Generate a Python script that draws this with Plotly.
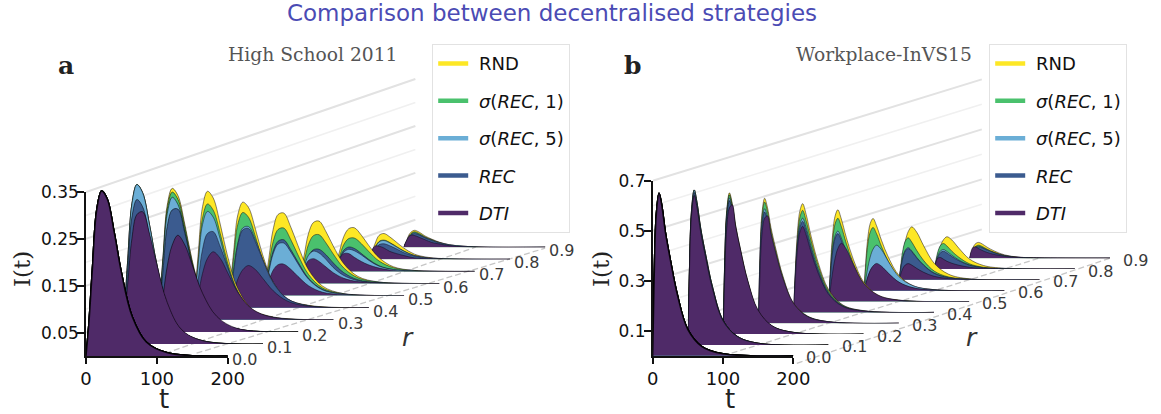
import plotly.graph_objects as go

W, H = 1161, 414
R_LABELS = ["0.0","0.1","0.2","0.3","0.4","0.5","0.6","0.7","0.8","0.9"]
SERIES = ["\u00a0RND", "\u00a0<i>σ</i>(<i>REC</i>, 1)", "\u00a0<i>σ</i>(<i>REC</i>, 5)", "\u00a0<i>REC</i>", "\u00a0<i>DTI</i>"]
COLORS = ["#FDE725", "#4AC16D", "#6BAED6", "#3B5B8F", "#4F2A68"]

# Values are I(t) in thousandths, one row per r = 0.0 ... 0.9
T_A = [0,4,9,15,22,30,40,50,65,85,115,200]
A_RND = [
[0,68,185,310,352,335,262,178,85,30,7,0],
[0,65,178,299,340,323,253,171,82,29,7,0],
[0,59,160,270,306,291,228,154,74,26,6,0],
[0,52,143,241,274,260,204,138,66,23,6,0],
[0,43,118,198,225,214,167,113,54,19,5,0],
[0,28,80,141,173,176,146,107,55,20,4,0],
[0,21,60,106,130,133,110,80,42,15,3,0],
[0,15,42,74,91,93,77,56,29,10,2,0],
[0,12,32,51,55,48,36,24,11,4,1,0],
[0,14,30,36,32,24,17,11,5,2,0,0]]
A_S1 = [
[0,68,185,310,352,335,262,178,85,30,7,0],
[0,65,178,299,340,323,253,171,82,29,7,0],
[0,57,156,262,298,283,222,150,72,25,6,0],
[0,47,129,217,247,234,184,124,60,21,5,0],
[0,39,106,178,203,193,151,102,49,17,4,0],
[0,23,65,115,141,144,119,87,45,16,4,0],
[0,17,47,83,102,104,86,63,33,12,3,0],
[0,12,32,57,70,71,59,43,22,8,2,0],
[0,9,24,38,41,36,27,18,8,3,1,0],
[0,13,27,33,29,22,16,10,5,2,0,0]]
A_S5 = [
[0,68,185,310,352,335,262,178,85,30,7,0],
[0,65,178,299,340,323,253,171,82,29,7,0],
[0,55,150,252,287,272,213,144,69,24,6,0],
[0,44,121,203,231,219,172,116,56,20,5,0],
[0,30,82,138,170,173,144,105,54,19,4,0],
[0,18,51,89,110,112,93,68,35,12,3,0],
[0,13,36,60,69,65,51,34,17,6,1,0],
[0,9,24,41,47,44,35,24,11,4,1,0],
[0,9,23,37,40,35,26,17,8,3,1,0],
[0,12,25,31,27,21,15,10,5,2,0,0]]
A_REC = [
[0,68,185,310,352,335,262,178,85,30,7,0],
[0,59,161,271,308,293,229,155,74,26,6,0],
[0,46,130,225,260,262,210,145,72,26,6,0],
[0,30,86,150,184,188,156,114,59,21,5,0],
[0,27,77,135,166,169,140,103,53,19,4,0],
[0,19,54,95,116,119,98,72,37,13,3,0],
[0,12,33,58,72,73,61,44,23,8,2,0],
[0,10,27,45,52,49,38,26,12,4,1,0],
[0,7,19,31,33,29,22,14,7,2,0,0],
[0,12,24,29,26,20,14,9,4,1,0,0]]
A_DTI = [
[0,68,185,310,352,335,262,178,85,30,7,0],
[0,46,128,225,276,282,234,171,88,31,7,0],
[0,27,76,140,185,206,185,144,82,33,7,0],
[0,19,54,99,131,145,131,102,58,23,5,0],
[0,12,33,61,81,90,81,63,36,14,3,0],
[0,11,31,54,66,67,56,41,21,7,2,0],
[0,12,31,49,53,47,35,23,11,4,1,0],
[0,11,27,38,38,30,21,14,7,2,0,0],
[0,16,28,28,24,17,12,8,3,1,0,0],
[0,14,25,25,21,16,10,7,3,1,0,0]]

T_B = [0,2,5,9,13,18,25,35,50,70,100,200]
B_RND = [
[0,300,560,650,600,495,385,245,105,37,8,0],
[0,285,533,620,570,471,366,233,99,35,7,0],
[0,261,488,565,523,432,335,213,91,32,7,0],
[0,232,433,500,464,383,297,189,81,29,6,0],
[0,130,296,405,435,392,305,200,91,30,7,0],
[0,110,250,341,367,330,257,169,77,26,6,0],
[0,87,197,269,289,260,202,133,61,20,4,0],
[0,38,98,157,193,212,191,136,66,23,4,0],
[0,23,59,95,117,129,116,83,40,14,3,0],
[0,19,43,59,63,57,44,29,13,4,1,0]]
B_S1 = [
[0,300,560,650,600,495,385,245,105,37,8,0],
[0,285,533,620,570,471,366,233,99,35,7,0],
[0,258,482,557,515,426,330,210,90,32,7,0],
[0,224,419,485,448,370,287,183,78,28,6,0],
[0,122,277,379,408,367,286,188,86,29,6,0],
[0,100,226,310,333,300,233,153,70,23,5,0],
[0,76,172,235,253,228,177,116,53,18,4,0],
[0,50,114,156,168,151,118,77,35,12,3,0],
[0,31,69,95,102,92,71,47,21,7,2,0],
[0,16,35,48,52,47,36,24,11,4,1,0]]
B_S5 = [
[0,300,560,650,600,495,385,245,105,37,8,0],
[0,285,533,620,570,471,366,233,99,35,7,0],
[0,252,471,545,504,416,323,206,88,31,7,0],
[0,212,396,458,423,350,271,173,74,26,6,0],
[0,113,256,351,377,339,264,173,79,26,6,0],
[0,85,192,262,282,254,197,130,59,20,4,0],
[0,33,84,135,166,182,164,116,56,20,4,0],
[0,39,88,120,129,116,90,59,27,9,2,0],
[0,23,53,73,78,70,55,36,16,5,1,0],
[0,14,33,45,48,43,34,22,10,3,1,0]]
B_REC = [
[0,300,560,650,600,495,385,245,105,37,8,0],
[0,281,525,610,561,464,360,229,98,35,7,0],
[0,247,462,534,494,408,317,201,86,31,6,0],
[0,206,384,445,411,340,264,168,72,25,5,0],
[0,109,248,339,364,328,255,167,76,25,5,0],
[0,82,185,253,272,245,190,125,57,19,4,0],
[0,20,50,80,97,105,95,68,33,11,2,0],
[0,38,85,116,125,113,88,58,26,9,2,0],
[0,21,48,66,71,64,50,33,15,5,1,0],
[0,14,31,42,45,41,32,21,9,3,1,0]]
B_DTI = [
[0,300,560,650,600,495,385,245,105,37,8,0],
[0,275,514,598,550,454,353,224,96,34,7,0],
[0,200,420,505,517,430,335,215,95,33,7,0],
[0,165,350,420,430,360,280,180,80,27,6,0],
[0,103,234,320,344,310,241,158,72,24,5,0],
[0,42,107,172,212,233,210,149,72,26,5,0],
[0,20,50,81,99,109,98,70,34,12,2,0],
[0,20,44,60,65,59,46,30,14,5,1,0],
[0,25,44,46,39,31,23,15,7,2,0,0],
[0,25,43,45,38,31,23,15,7,2,0,0]]

Y_TICKS_A = [0.05, 0.15, 0.25, 0.35]
Y_TICKS_B = [0.1, 0.3, 0.5, 0.7]
GRID_A = [0.35, 0.30, 0.25, 0.20, 0.15, 0.10, 0.05]
GRID_B = [0.7, 0.6, 0.5, 0.4, 0.3, 0.2, 0.1]

PANELS = [
    dict(letter="a", name="High School 2011", T=T_A, data=[A_RND, A_S1, A_S5, A_REC, A_DTI],
         x0=86.0, xs=0.7085, y0=356.1, ys=469.0, dx=35.3, dy=12.1, ymax=0.42,
         ticks=Y_TICKS_A, tickfmt="%.2f", grid=GRID_A,
         grid_steps=9.33, legx=432, letter_x=66, name_r=400, ylab_x=22, tlab_x=164, rlab=(408, 337),
         lab_dx=2, lab_dy=-3.5, dash=[(100, 0.0, 100+450, 9*12.1/469), (156, 0.0064, 648, 0.23)]),
    dict(letter="b", name="Workplace-InVS15", T=T_B, data=[B_RND, B_S1, B_S5, B_REC, B_DTI],
         x0=652.7, xs=0.703, y0=355.8, ys=250.0, dx=35.2, dy=10.85, ymax=0.72,
         ticks=Y_TICKS_B, tickfmt="%.1f", grid=GRID_B,
         grid_steps=9.35, legx=989, letter_x=632, name_r=974, ylab_x=601, tlab_x=730, rlab=(972, 337),
         lab_dx=11, lab_dy=-2, dash=[(100, 0.0, 550, 9*10.85/250), (205, -0.03, 650, 0.39)]),
]

fig = go.Figure()
layout = {}
annots = []

def xdom(a, b):
    return [a / W, b / W]

def ydom(bottom, top):
    return [1 - bottom / H, 1 - top / H]

def paper_text(x, y, text, family, size, color, xanchor="center", angle=0):
    return dict(x=x / W, y=1 - y / H, xref="paper", yref="paper", text=text, showarrow=False,
                xanchor=xanchor, yanchor="middle", textangle=angle,
                font=dict(family=family, size=size, color=color))

n = 0
for p_idx, p in enumerate(PANELS):
    # background axes: grid rails and dashed floor lines
    n += 1
    bg = n
    b_left, b_right = p["x0"], p["x0"] + 500
    b_bot, b_top = p["y0"] + 30, p["y0"] - 320
    layout[f"xaxis{bg}"] = dict(domain=xdom(b_left, b_right), range=[0, 500 / p["xs"]], visible=False, anchor=f"y{bg}")
    layout[f"yaxis{bg}"] = dict(domain=ydom(b_bot, b_top), range=[-30 / p["ys"], 320 / p["ys"]], visible=False, anchor=f"x{bg}")
    sx = p["dx"] / p["xs"]
    sy = p["dy"] / p["ys"]
    for k, v in enumerate(p["grid"]):
        maj = k % 2 == 0
        fig.add_trace(go.Scatter(x=[0, p["grid_steps"] * sx], y=[v, v + p["grid_steps"] * sy],
                                 mode="lines", line=dict(color="#e2e2e2" if maj else "#f0f0f0", width=2 if maj else 1.6),
                                 xaxis=f"x{bg}", yaxis=f"y{bg}", showlegend=False, hoverinfo="skip"))
    for d in p["dash"]:
        fig.add_trace(go.Scatter(x=[d[0], d[2]], y=[d[1], d[3]], mode="lines",
                                 line=dict(color="#c6c6c6", width=1.3, dash="6px,3px"),
                                 xaxis=f"x{bg}", yaxis=f"y{bg}", showlegend=False, hoverinfo="skip"))
    # one pair of axes per ridge, back to front
    for i in range(9, -1, -1):
        n += 1
        left = p["x0"] + i * p["dx"]
        base = p["y0"] - i * p["dy"]
        layout[f"xaxis{n}"] = dict(domain=xdom(left, left + 200 * p["xs"]), range=[0, 200], visible=False, anchor=f"y{n}")
        layout[f"yaxis{n}"] = dict(domain=ydom(base, base - p["ymax"] * p["ys"]), range=[0, p["ymax"]], visible=False, anchor=f"x{n}")
        rows = [s[i] for s in p["data"]]
        order = sorted(range(4), key=lambda j: -max(rows[j])) + [4]
        edge = "rgba(0,0,0,0.85)" if i == 0 else ("rgba(0,0,0,0.6)" if i < 3 else "rgba(15,8,25,0.62)")
        width = 1.5 if i == 0 else (0.9 if i < 3 else 0.8)
        for j in order:
            fig.add_trace(go.Scatter(x=p["T"], y=[v / 1000 for v in rows[j]], mode="lines",
                                     line=dict(shape="spline", smoothing=1.0, color=edge, width=width),
                                     fill="tozeroy", fillcolor=COLORS[j], cliponaxis=False,
                                     xaxis=f"x{n}", yaxis=f"y{n}", showlegend=False, hoverinfo="skip"))
        annots.append(dict(x=200, y=0, xref=f"x{n}", yref=f"y{n}", text=R_LABELS[i], showarrow=False,
                           xanchor="left", yanchor="middle", xshift=p["lab_dx"], yshift=p["lab_dy"],
                           font=dict(family="DejaVu Sans", size=16, color="#3a3a3a")))
    # visible axes
    n += 1
    top_v = p["ticks"][-1]
    layout[f"xaxis{n}"] = dict(domain=xdom(p["x0"], p["x0"] + 200 * p["xs"]), range=[0, 200], anchor=f"y{n}",
                               tickvals=[0, 100, 200], ticks="outside", ticklen=6, tickwidth=1.5, tickcolor="#111",
                               showline=True, linecolor="#111", linewidth=1.5, showgrid=False, zeroline=False,
                               tickfont=dict(family="DejaVu Sans", size=18, color="#111"))
    layout[f"yaxis{n}"] = dict(domain=ydom(p["y0"], p["y0"] - top_v * p["ys"]), range=[0, top_v], anchor=f"x{n}",
                               tickvals=p["ticks"], ticktext=[p["tickfmt"] % v for v in p["ticks"]],
                               ticks="outside", ticklen=7, tickwidth=1.5, tickcolor="#111", ticklabelstandoff=-5,
                               showline=True, linecolor="#111", linewidth=1.5, showgrid=False, zeroline=False,
                               tickfont=dict(family="DejaVu Sans", size=17, color="#111"))
    leg = "legend" if p_idx == 0 else "legend2"
    layout[leg] = dict(x=p["legx"] / W, y=1 - 44 / H, xanchor="left", yanchor="top", bgcolor="rgba(255,255,255,0.85)",
                       bordercolor="#e2e2e2", borderwidth=1.2, font=dict(family="DejaVu Sans", size=18, color="#111"),
                       tracegroupgap=11, itemwidth=30, traceorder="grouped", itemclick=False, itemdoubleclick=False)
    for j, name in enumerate(SERIES):
        fig.add_trace(go.Scatter(x=[None], y=[None], mode="lines", name=name, line=dict(color=COLORS[j], width=4.5),
                                 xaxis=f"x{n}", yaxis=f"y{n}", legend=leg, legendgroup=f"{p_idx}-{j}", showlegend=True, hoverinfo="skip"))
    annots += [
        paper_text(p["letter_x"], 65, f"<b>{p['letter']}</b>", "DejaVu Serif", 25, "#222"),
        paper_text(p["name_r"], 54, p["name"], "DejaVu Serif", 18.7, "#555", xanchor="right"),
        paper_text(p["ylab_x"], 269, "I(t)", "DejaVu Serif", 23, "#222", angle=-90),
        paper_text(p["tlab_x"], 399, "t", "DejaVu Sans", 26, "#222"),
        paper_text(p["rlab"][0], p["rlab"][1], "<i>r</i>", "DejaVu Sans", 25, "#333"),
    ]

fig.update_layout(
    width=W, height=H, autosize=False, margin=dict(l=0, r=0, t=0, b=0, autoexpand=False),
    paper_bgcolor="white", plot_bgcolor="rgba(0,0,0,0)",
    title=dict(text="Comparison between decentralised strategies", x=552 / W, y=1 - 13 / H, xanchor="center", yanchor="middle",
               font=dict(family="DejaVu Sans", size=23, color="#4B4BB4")),
    annotations=annots, **layout,
)
fig.write_html("out.html", config={"displayModeBar": False}, post_script="document.body.style.margin='0';")
